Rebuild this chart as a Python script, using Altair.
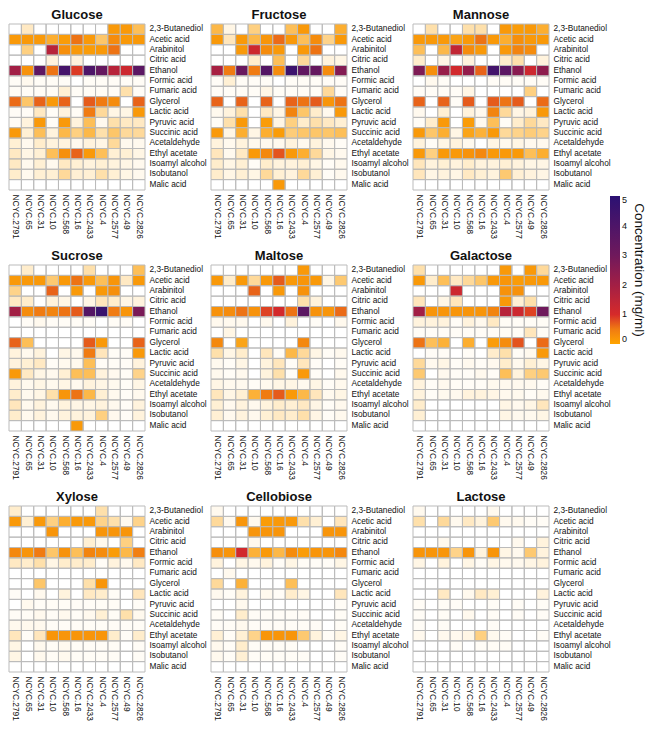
import altair as alt
import pandas as pd

COMPOUNDS = ["2,3-Butanediol", "Acetic acid", "Arabinitol", "Citric acid", "Ethanol",
             "Formic acid", "Fumaric acid", "Glycerol", "Lactic acid", "Pyruvic acid",
             "Succinic acid", "Acetaldehyde", "Ethyl acetate", "Isoamyl alcohol",
             "Isobutanol", "Malic acid"]

STRAINS = ["NCYC.2791", "NCYC.65", "NCYC.31", "NCYC.10", "NCYC.568", "NCYC.16",
           "NCYC.2433", "NCYC.4", "NCYC.2577", "NCYC.49", "NCYC.2826"]

GRID = [["Glucose", "Fructose", "Mannose"],
        ["Sucrose", "Maltose", "Galactose"],
        ["Xylose", "Cellobiose", "Lactose"]]

GLUCOSE = [
    [0, 0.07, 0, 0, 0, 0, 0, 0, 0.32, 0.32, 0.2],
    [0.32, 0.32, 0.32, 0.25, 0.3, 0.55, 0.32, 0.18, 0.4, 0.32, 0.32],
    [0, 0.15, 0, 1.6, 0.38, 0.32, 0.3, 0.32, 0.55, 0, 0],
    [0, 0, 0, 0.04, 0, 0.04, 0, 0, 0, 0, 0],
    [2.0, 0.36, 3.5, 0.55, 4.2, 0.9, 4.0, 3.3, 1.6, 1.2, 3.6],
    [0.01, 0.02, 0.01, 0.01, 0.01, 0, 0.01, 0.01, 0.01, 0.01, 0.01],
    [0.01, 0.01, 0.01, 0.01, 0.05, 0.01, 0.01, 0.01, 0.01, 0.1, 0.01],
    [0.6, 0.18, 0.65, 0.32, 0.65, 0, 0.7, 0.5, 0.4, 0, 0.65],
    [0.01, 0.01, 0.07, 0.01, 0.04, 0.01, 0.5, 0.12, 0.03, 0.03, 0.32],
    [0.01, 0.04, 0.32, 0.01, 0.32, 0.04, 0.2, 0.02, 0.1, 0.07, 0.07],
    [0.32, 0.05, 0.2, 0.04, 0.22, 0.15, 0.22, 0.1, 0.18, 0.12, 0.12],
    [0.05, 0.02, 0.06, 0.04, 0.04, 0.02, 0.04, 0.03, 0.12, 0.02, 0.02],
    [0.07, 0.03, 0.05, 0.2, 0.38, 0.65, 0.32, 0.2, 0.05, 0.05, 0.03],
    [0.07, 0.02, 0.05, 0.02, 0.07, 0.05, 0.04, 0.05, 0.04, 0.03, 0.02],
    [0.06, 0.02, 0.05, 0.05, 0.12, 0.05, 0.05, 0.1, 0.05, 0.03, 0.02],
    [0, 0, 0, 0, 0, 0, 0, 0, 0, 0, 0],
]

FRUCTOSE = [
    [0.22, 0.03, 0, 0.15, 0, 0, 0.2, 0.32, 0, 0, 0.25],
    [0.32, 0.08, 0.32, 0.22, 0.34, 0.6, 0.32, 0.2, 0.4, 0.14, 0.32],
    [0, 0, 0.32, 1.2, 0.4, 0.32, 0, 0.32, 0.55, 0, 0],
    [0, 0, 0, 0.06, 0, 0.2, 0, 0.12, 0, 0.04, 0.03],
    [1.9, 0.5, 3.2, 0.5, 3.8, 0.4, 4.5, 3.4, 3.3, 0.4, 2.6],
    [0.01, 0.05, 0.01, 0.01, 0.01, 0, 0.01, 0.01, 0.01, 0.01, 0.01],
    [0.01, 0.01, 0.01, 0.01, 0.03, 0.01, 0.01, 0.01, 0.01, 0.12, 0.01],
    [0.65, 0, 0.65, 0, 0.65, 0, 0.65, 0.55, 0.7, 0.34, 0.55],
    [0.02, 0.04, 0.1, 0, 0.07, 0.03, 0.45, 0.18, 0.06, 0.02, 0.32],
    [0.01, 0.1, 0.32, 0, 0.3, 0.03, 0.15, 0.06, 0.1, 0.07, 0.05],
    [0.32, 0.03, 0.25, 0.03, 0.25, 0.3, 0.16, 0.18, 0.18, 0.18, 0.2],
    [0.04, 0.02, 0.04, 0.02, 0.02, 0.02, 0.04, 0.02, 0.04, 0.02, 0.01],
    [0.08, 0.02, 0.07, 0.32, 0.42, 0.75, 0.32, 0.25, 0.12, 0.03, 0.02],
    [0.06, 0.03, 0.05, 0.01, 0.06, 0.04, 0.04, 0.05, 0.03, 0.01, 0.02],
    [0.06, 0.03, 0.05, 0.03, 0.12, 0.05, 0.04, 0.12, 0.05, 0.01, 0.02],
    [0, 0, 0, 0, 0, 0.32, 0, 0, 0, 0, 0],
]

MANNOSE = [
    [0, 0.1, 0, 0, 0.1, 0.1, 0, 0.32, 0.3, 0.32, 0.25],
    [0.32, 0.32, 0.32, 0.28, 0.32, 0.55, 0.32, 0.25, 0.38, 0.32, 0.32],
    [0.2, 0, 0.22, 1.4, 0.4, 0.32, 0, 0.32, 0.45, 0.4, 0],
    [0.06, 0, 0.03, 0, 0.04, 0, 0, 0.06, 0.1, 0, 0.04],
    [2.7, 0.38, 2.2, 1.1, 2.3, 0.65, 4.3, 3.6, 2.5, 1.2, 2.4],
    [0, 0.02, 0.01, 0, 0, 0, 0.01, 0.01, 0.01, 0.01, 0.01],
    [0.01, 0.01, 0.01, 0.01, 0.03, 0, 0, 0, 0, 0.15, 0],
    [0.65, 0, 0.65, 0.01, 0.7, 0, 0.7, 0.55, 0.7, 0, 0.6],
    [0.02, 0, 0.05, 0, 0.04, 0.02, 0.45, 0.12, 0.03, 0.04, 0.32],
    [0.01, 0.06, 0.32, 0, 0.3, 0.02, 0.2, 0.01, 0.06, 0.12, 0.07],
    [0.32, 0.18, 0.25, 0.03, 0.28, 0.24, 0.32, 0.12, 0.14, 0.16, 0.14],
    [0.04, 0.01, 0.03, 0.04, 0.02, 0, 0.03, 0.02, 0.03, 0.02, 0.02],
    [0.32, 0.15, 0.32, 0.32, 0.36, 0.42, 0.32, 0.32, 0.32, 0.2, 0.25],
    [0.08, 0.04, 0.05, 0.04, 0.06, 0.04, 0.04, 0.05, 0.04, 0.03, 0.03],
    [0.08, 0.03, 0.04, 0.03, 0.07, 0.05, 0.04, 0.17, 0.05, 0.04, 0.03],
    [0, 0, 0, 0, 0, 0, 0, 0, 0, 0, 0],
]

SUCROSE = [
    [0, 0.06, 0, 0, 0, 0, 0.1, 0, 0, 0, 0.2],
    [0.32, 0.32, 0.32, 0.17, 0.32, 0.55, 0.32, 0.2, 0.34, 0.07, 0.32],
    [0.14, 0, 0, 0.65, 0, 0.32, 0, 0.32, 0.38, 0, 0],
    [0.07, 0.06, 0, 0.04, 0.03, 0, 0.03, 0.08, 0.06, 0.03, 0.04],
    [2.0, 0.4, 0.5, 0.45, 0.55, 0.7, 3.8, 4.6, 0.5, 0.34, 2.8],
    [0, 0.01, 0.02, 0.01, 0.01, 0.01, 0.01, 0, 0.01, 0.01, 0],
    [0, 0, 0, 0, 0, 0, 0, 0, 0, 0, 0],
    [0.65, 0.2, 0, 0, 0, 0, 0.7, 0.32, 0, 0, 0.65],
    [0.04, 0.02, 0.04, 0, 0.03, 0.02, 0.5, 0.08, 0.01, 0.01, 0.32],
    [0.04, 0.05, 0.07, 0.01, 0.02, 0.02, 0.2, 0.01, 0.01, 0.01, 0.04],
    [0.32, 0.07, 0.03, 0.02, 0.05, 0.2, 0.2, 0.04, 0.02, 0.01, 0.14],
    [0.04, 0.02, 0.03, 0.02, 0.03, 0.02, 0.04, 0.03, 0.02, 0.01, 0.03],
    [0.06, 0.02, 0.03, 0.1, 0.34, 0.55, 0.22, 0.05, 0.02, 0.01, 0.02],
    [0.08, 0.02, 0.04, 0.02, 0.04, 0.03, 0.03, 0.04, 0.02, 0.01, 0.04],
    [0.06, 0.02, 0.04, 0.02, 0.04, 0.04, 0.04, 0.15, 0.02, 0.01, 0.04],
    [0, 0, 0, 0, 0, 0.32, 0, 0, 0, 0, 0],
]

MALTOSE = [
    [0, 0, 0, 0, 0, 0, 0, 0.32, 0, 0, 0],
    [0.32, 0.06, 0.32, 0.12, 0.32, 0.7, 0.32, 0.34, 0.32, 0.03, 0.17],
    [0, 0, 0, 0.65, 0, 0.32, 0, 0.36, 0, 0, 0],
    [0, 0, 0, 0, 0, 0, 0, 0.1, 0.04, 0, 0],
    [0.36, 0.4, 0.55, 0.36, 0.85, 1.05, 0.55, 3.6, 0.36, 0.34, 0.6],
    [0.02, 0.02, 0.02, 0, 0.02, 0, 0.04, 0, 0.01, 0, 0.02],
    [0, 0.03, 0, 0, 0, 0, 0, 0, 0, 0, 0],
    [0.42, 0, 0.28, 0, 0, 0, 0, 0.42, 0, 0, 0],
    [0.1, 0.03, 0.06, 0, 0.08, 0.01, 0.22, 0.12, 0.03, 0.01, 0.02],
    [0.02, 0.01, 0.03, 0, 0.04, 0.08, 0.01, 0.08, 0.01, 0, 0.01],
    [0.02, 0.01, 0.02, 0, 0.04, 0.1, 0.01, 0.32, 0.01, 0, 0.02],
    [0.03, 0.02, 0.02, 0.01, 0.02, 0.03, 0.03, 0.02, 0.03, 0.01, 0.02],
    [0.08, 0.03, 0.05, 0.24, 0.5, 0.7, 0.32, 0.22, 0.08, 0.02, 0.03],
    [0.05, 0.02, 0.04, 0.02, 0.04, 0.06, 0.05, 0.07, 0.03, 0.01, 0.02],
    [0.05, 0.02, 0.04, 0.02, 0.05, 0.07, 0.06, 0.1, 0.03, 0.01, 0.02],
    [0, 0, 0, 0, 0, 0, 0, 0, 0, 0, 0],
]

GALACTOSE = [
    [0.1, 0, 0, 0, 0, 0, 0, 0.32, 0, 0.32, 0.12],
    [0.32, 0.06, 0.2, 0.07, 0.12, 0.18, 0.32, 0.34, 0.3, 0.32, 0.32],
    [0, 0, 0, 1.2, 0, 0, 0, 0.36, 0.36, 0, 0],
    [0.08, 0, 0.03, 0.08, 0, 0, 0, 0.32, 0.05, 0.1, 0],
    [2.0, 0.34, 0.34, 0.34, 0.34, 0.34, 0.45, 1.6, 1.2, 0.85, 3.0],
    [0.04, 0.04, 0.04, 0.01, 0.04, 0.02, 0.07, 0.01, 0.01, 0.01, 0.01],
    [0.01, 0.01, 0.01, 0.01, 0.01, 0.01, 0.01, 0.01, 0.01, 0.08, 0.01],
    [0.55, 0.2, 0.24, 0, 0.25, 0, 0.3, 0.4, 0.75, 0, 0.6],
    [0, 0.01, 0.01, 0, 0.01, 0, 0.06, 0.1, 0.01, 0.02, 0.32],
    [0.12, 0.02, 0.03, 0.01, 0.02, 0.01, 0.02, 0.06, 0.02, 0.05, 0.03],
    [0.17, 0, 0.02, 0.01, 0.01, 0.02, 0.01, 0.2, 0.04, 0.15, 0.17],
    [0.04, 0.01, 0.02, 0.01, 0.01, 0.01, 0.02, 0.02, 0.02, 0.02, 0.01],
    [0.04, 0.01, 0.02, 0.02, 0.04, 0.04, 0.03, 0.02, 0.02, 0.01, 0.02],
    [0.06, 0, 0, 0, 0, 0, 0, 0.03, 0.02, 0.03, 0.08],
    [0.05, 0, 0, 0, 0, 0, 0, 0.03, 0.02, 0.02, 0.03],
    [0, 0, 0, 0, 0, 0, 0, 0, 0, 0, 0],
]

XYLOSE = [
    [0.06, 0, 0, 0, 0, 0, 0, 0.1, 0, 0, 0],
    [0.32, 0.05, 0.32, 0.15, 0.25, 0.32, 0.32, 0.14, 0.1, 0.02, 0.14],
    [0, 0, 0, 0.34, 0, 0, 0, 0.34, 0.34, 0.34, 0],
    [0, 0, 0, 0, 0, 0, 0.05, 0.02, 0, 0.15, 0],
    [0.42, 0.34, 0.5, 0.18, 0.36, 0.2, 0.45, 0.4, 0.3, 0.22, 0.48],
    [0.07, 0.06, 0.1, 0.03, 0.06, 0.06, 0.06, 0.01, 0.04, 0.02, 0.07],
    [0, 0, 0, 0, 0, 0, 0, 0, 0, 0, 0],
    [0, 0, 0.18, 0, 0, 0, 0.1, 0.34, 0, 0, 0],
    [0.01, 0, 0.02, 0, 0.04, 0, 0.07, 0.06, 0.01, 0, 0.08],
    [0, 0.02, 0.01, 0.01, 0.01, 0.01, 0.01, 0.01, 0.01, 0, 0.01],
    [0.01, 0.01, 0.02, 0.01, 0.02, 0.01, 0.02, 0.05, 0.01, 0.1, 0.02],
    [0.02, 0.02, 0.02, 0.01, 0.01, 0.01, 0.01, 0.01, 0.01, 0.01, 0.01],
    [0.08, 0.01, 0.08, 0.34, 0.34, 0.34, 0.34, 0.34, 0.06, 0.01, 0.06],
    [0.03, 0, 0.02, 0.01, 0.02, 0.01, 0.01, 0.01, 0.01, 0, 0.01],
    [0.03, 0, 0.02, 0.01, 0.02, 0.01, 0.01, 0.01, 0.01, 0, 0.01],
    [0, 0, 0, 0, 0, 0, 0, 0, 0, 0, 0],
]

CELLOBIOSE = [
    [0.02, 0, 0, 0, 0, 0, 0, 0, 0, 0, 0],
    [0.12, 0.02, 0.34, 0.02, 0.3, 0.32, 0.32, 0.1, 0.05, 0, 0.08],
    [0, 0, 0, 0.34, 0.34, 0.34, 0, 0, 0, 0.34, 0.34],
    [0, 0, 0, 0.02, 0, 0, 0, 0, 0, 0, 0],
    [0.38, 0.34, 1.1, 0.24, 0.32, 0.22, 0.4, 0.3, 0.34, 0.34, 0.42],
    [0.04, 0, 0.03, 0.02, 0.04, 0.01, 0.03, 0.01, 0.01, 0.01, 0.03],
    [0, 0.02, 0, 0, 0, 0, 0, 0, 0, 0, 0],
    [0.12, 0, 0.24, 0, 0, 0, 0.2, 0, 0, 0, 0],
    [0.02, 0.01, 0.04, 0, 0.02, 0.01, 0.06, 0.03, 0, 0, 0.08],
    [0, 0, 0.02, 0, 0, 0, 0, 0, 0, 0, 0.01],
    [0.01, 0, 0.06, 0.01, 0.01, 0.01, 0.01, 0.01, 0, 0, 0.01],
    [0.01, 0.01, 0.02, 0.01, 0.01, 0.01, 0.01, 0.01, 0.01, 0, 0.01],
    [0.05, 0.01, 0.05, 0.14, 0.34, 0.34, 0.34, 0.17, 0.04, 0.01, 0.03],
    [0.02, 0.01, 0.06, 0.01, 0.01, 0.01, 0.01, 0, 0, 0, 0.01],
    [0.02, 0.01, 0.05, 0.01, 0.01, 0.01, 0.01, 0.01, 0, 0, 0.01],
    [0, 0, 0, 0, 0, 0, 0, 0, 0, 0, 0],
]

LACTOSE = [
    [0.02, 0, 0, 0, 0, 0, 0.02, 0, 0, 0, 0],
    [0.1, 0, 0.12, 0.02, 0.07, 0.04, 0.17, 0.02, 0.02, 0.01, 0.01],
    [0, 0, 0, 0, 0, 0, 0, 0, 0, 0, 0],
    [0, 0, 0.02, 0, 0, 0, 0, 0, 0.02, 0, 0.04],
    [0.34, 0.34, 0.34, 0.14, 0.34, 0.04, 0.34, 0.03, 0.02, 0.17, 0.04],
    [0.03, 0, 0.04, 0, 0.03, 0.01, 0.03, 0.02, 0.02, 0.03, 0.04],
    [0, 0, 0, 0, 0, 0, 0, 0, 0, 0, 0],
    [0, 0, 0, 0, 0, 0, 0, 0, 0, 0, 0],
    [0, 0, 0.07, 0, 0.02, 0.07, 0.05, 0, 0, 0, 0.04],
    [0.01, 0, 0.01, 0.01, 0, 0, 0.01, 0, 0.01, 0, 0.01],
    [0.01, 0, 0.01, 0, 0.02, 0, 0.01, 0, 0.01, 0, 0.01],
    [0.01, 0, 0.01, 0, 0, 0, 0.01, 0, 0, 0, 0],
    [0.02, 0, 0.02, 0.02, 0.03, 0.15, 0.02, 0.01, 0, 0, 0.01],
    [0, 0, 0, 0.01, 0, 0.01, 0.01, 0.01, 0, 0, 0],
    [0, 0, 0, 0, 0, 0, 0, 0, 0, 0, 0],
    [0, 0, 0, 0, 0, 0, 0, 0, 0, 0, 0],
]

MATRICES = {"Glucose": GLUCOSE, "Fructose": FRUCTOSE, "Mannose": MANNOSE,
            "Sucrose": SUCROSE, "Maltose": MALTOSE, "Galactose": GALACTOSE,
            "Xylose": XYLOSE, "Cellobiose": CELLOBIOSE, "Lactose": LACTOSE}

rows = []
for sugar, mat in MATRICES.items():
    for ci, comp in enumerate(COMPOUNDS):
        for si, strain in enumerate(STRAINS):
            rows.append({"sugar": sugar, "compound": comp, "strain": strain,
                         "value": mat[ci][si]})
df = pd.DataFrame(rows)

LABEL_FONT = "Liberation Sans, Arial, sans-serif"
TITLE_FONT = "Liberation Sans Narrow, Arial Narrow, Liberation Sans, Arial, sans-serif"

color_scale = alt.Scale(domain=[0, 0.3, 1, 2, 3, 5],
                        range=["#FFA500", "#FA9C08", "#D62A2A", "#A21F45", "#6F195C", "#2B1173"],
                        interpolate="rgb")
opacity_scale = alt.Scale(domain=[0, 0.3], range=[0, 1], clamp=True)


def panel(sugar):
    return alt.Chart(df).transform_filter(alt.datum.sugar == sugar).mark_rect(
        stroke="#BBBBBB", strokeWidth=1
    ).encode(
        x=alt.X("strain:N", sort=STRAINS,
                scale=alt.Scale(paddingInner=0, paddingOuter=0),
                axis=alt.Axis(orient="bottom", title=None, labelAngle=90, ticks=False,
                              domain=False, labelFontSize=8.3, labelPadding=4,
                              labelFont=LABEL_FONT, labelColor="#111")),
        y=alt.Y("compound:N", sort=COMPOUNDS,
                scale=alt.Scale(paddingInner=0, paddingOuter=0),
                axis=alt.Axis(orient="right", title=None, ticks=False, domain=False,
                              labelFontSize=8.3, labelPadding=4, labelFont=LABEL_FONT,
                              labelColor="#111")),
        color=alt.Color("value:Q", scale=color_scale,
                        legend=alt.Legend(title="Concentration (mg/ml)",
                                          orient="none", legendX=601, legendY=172,
                                          direction="vertical", gradientLength=148,
                                          gradientThickness=10, gradientStrokeWidth=0,
                                          values=[0, 1, 2, 3, 4, 5],
                                          labelFontSize=9, labelFont=LABEL_FONT,
                                          labelColor="#111",
                                          titleOrient="right",
                                          titleFontSize=13.5, titleFontWeight="normal",
                                          titleFont=LABEL_FONT, titleColor="#111",
                                          titleAnchor="middle", titlePadding=5)),
        fillOpacity=alt.FillOpacity("value:Q", scale=opacity_scale, legend=None),
    ).properties(
        width=136, height=166,
        title=alt.TitleParams(sugar, fontSize=13, font=TITLE_FONT, fontWeight="bold",
                              anchor="middle", offset=2, color="#111"),
    )


rows_charts = [alt.hconcat(*[panel(s) for s in r], spacing=3) for r in GRID]
chart = alt.vconcat(*rows_charts, spacing=10).properties(
    padding={"left": 0, "top": 0, "right": 0, "bottom": 0}
).configure_view(strokeWidth=0)

chart.save("out.html", embed_options={"renderer": "svg", "actions": False})
